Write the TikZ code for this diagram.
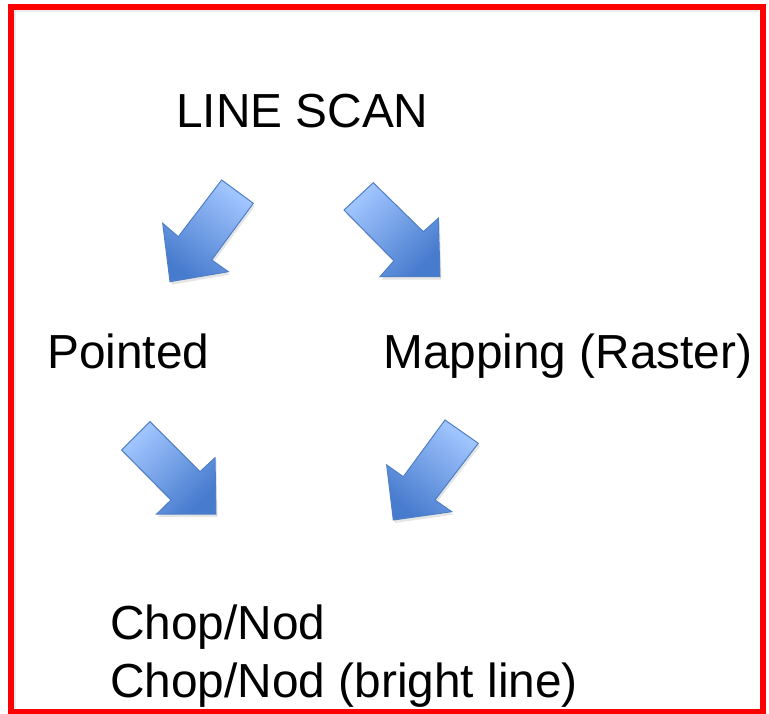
\documentclass[tikz,border=0pt]{standalone}
\usepackage{fontspec}
\setmainfont{Liberation Sans}
\definecolor{arrlight}{HTML}{A2C6FF}
\definecolor{arrdark}{HTML}{477BCE}
\definecolor{arredge}{HTML}{4F7FC4}
\begin{document}
\begin{tikzpicture}[x=1pt,y=-1pt,
  lbl/.style={anchor=base west,inner sep=0pt,font=\fontsize{47.8}{57}\selectfont},
  blockarrow/.style={draw=arredge,line width=1pt,line join=miter,shading=axis,top color=arrlight,bottom color=arrdark},
  arrshadow/.style={fill=black,opacity=0.10,draw=none}]
\useasboundingbox (0,0) rectangle (769,714);
\fill[white] (0,0) rectangle (769,714);
% border shadow and border
\draw[black!7,line width=2.5pt] (15,11) -- (758.5,11);
\draw[black!7,line width=2.5pt] (15,11) -- (15,708);
\draw[red,line width=6pt] (11,7.5) rectangle (762.5,711.5);
% texts
\node[lbl] (scan) at (176,128) {LINE SCAN};
\node[lbl] (pointed) at (47,368) {Pointed};
\node[lbl] (mapping) at (383,368) {Mapping (Raster)};
\node[lbl] (chop1) at (110,639) {Chop/Nod};
\node[lbl] (chop2) at (110,697) {Chop/Nod (bright line)};
% shadows
\begin{scope}[shift={(1.5,3)}]
\fill[arrshadow] (221.7,180) -- (253.3,203.3) -- (211.7,260) -- (228.3,271.7) -- (170,281.7) -- (162.7,223.3) -- (178.3,236.7) -- cycle;
\fill[arrshadow] (373.3,182.7) -- (344,210) -- (394,260.7) -- (380,276.7) -- (440,276.7) -- (438.3,218.3) -- (423.3,231.7) -- cycle;
\fill[arrshadow] (150,421.7) -- (121.7,450) -- (171,500) -- (156.7,514) -- (216,514) -- (215,457.7) -- (200,471.7) -- cycle;
\fill[arrshadow] (445,420) -- (478.3,443.3) -- (435,500) -- (451.7,511.7) -- (393.3,520) -- (386.7,465) -- (403.3,476.7) -- cycle;
\end{scope}
% arrows
\draw[blockarrow,shading angle=-37] (221.7,180) -- (253.3,203.3) -- (211.7,260) -- (228.3,271.7) -- (170,281.7) -- (162.7,223.3) -- (178.3,236.7) -- cycle;
\draw[blockarrow,shading angle=45] (373.3,182.7) -- (344,210) -- (394,260.7) -- (380,276.7) -- (440,276.7) -- (438.3,218.3) -- (423.3,231.7) -- cycle;
\draw[blockarrow,shading angle=45] (150,421.7) -- (121.7,450) -- (171,500) -- (156.7,514) -- (216,514) -- (215,457.7) -- (200,471.7) -- cycle;
\draw[blockarrow,shading angle=-38] (445,420) -- (478.3,443.3) -- (435,500) -- (451.7,511.7) -- (393.3,520) -- (386.7,465) -- (403.3,476.7) -- cycle;
\end{tikzpicture}
\end{document}
